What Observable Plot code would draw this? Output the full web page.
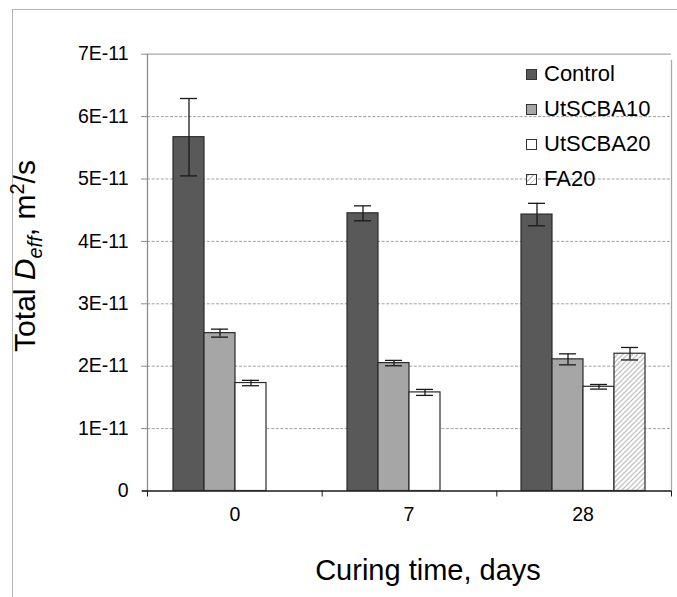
<!DOCTYPE html>
<html><head><meta charset="utf-8">
<script src="https://cdn.jsdelivr.net/npm/d3@7"></script>
<script src="https://cdn.jsdelivr.net/npm/@observablehq/plot@0.6"></script>
<style>
body{margin:0;background:#fff;font-family:"Liberation Sans",Arial,sans-serif;}
#wrap{position:relative;width:677px;height:597px;overflow:hidden;background:#fff;}
#wrap svg{position:absolute;left:0;top:0;}
#frame{position:absolute;left:12px;top:9px;width:700px;height:700px;border:1.5px solid #b4b4b4;box-sizing:border-box;}
.leg{position:absolute;left:526px;display:flex;align-items:center;font-size:22px;color:#000;height:24px;}
.leg .sw{width:11px;height:11px;border:1px solid #333;box-sizing:border-box;margin-right:7px;}
.ttl{position:absolute;color:#000;white-space:nowrap;}
</style></head><body><div id="wrap"><div id="frame"></div></div>
<script>
// values in units of 1E-11 m²/s
const categories = ["0", "7", "28"];
const series = ["Control", "UtSCBA10", "UtSCBA20", "FA20"];
const control     = [5.67, 4.45, 4.43];
const controlErr  = [0.62, 0.12, 0.18];
const utscba10    = [2.53, 2.05, 2.11];
const utscba10Err = [0.064, 0.043, 0.088];
const utscba20    = [1.73, 1.58, 1.67];
const utscba20Err = [0.043, 0.048, 0.037];
const fa20        = [null, null, 2.20];
const fa20Err     = [null, null, 0.10];
const yTicks = [0, 1, 2, 3, 4, 5, 6, 7];
const unit = 1e-11;
const fills = ["#595959", "#a6a6a6", "#ffffff", "url(#hatch)"];
const legendCss = ["#595959", "#a6a6a6", "#ffffff",
  "repeating-linear-gradient(-45deg,#c4c4c4 0 1.3px,#fff 1.3px 3.6px)"];

const vals = [control, utscba10, utscba20, fa20];
const errs = [controlErr, utscba10Err, utscba20Err, fa20Err];
const rows = [];
categories.forEach((c, i) => series.forEach((s, j) => {
  if (vals[j][i] != null) rows.push({cat: c, series: s, value: vals[j][i] * unit, err: errs[j][i] * unit});
}));

const W = 677, H = 597, mL = 147, mR = 6, mT = 53.7, mB = 106.5;
const font = '"Liberation Sans", Arial, sans-serif';
const wrap = document.getElementById("wrap");

const bg = Plot.plot({
  width: W, height: H, marginLeft: mL, marginRight: mR, marginTop: mT, marginBottom: mB,
  style: {background: "transparent", fontFamily: font, fontSize: "19.5px", color: "#000"},
  x: {type: "linear", domain: [0, categories.length], axis: null},
  y: {domain: [0, 7 * unit], axis: null},
  marks: [
    Plot.ruleY(yTicks.filter(t => t > 0 && t < 7).map(t => t * unit), {stroke: "#a0a0a0", strokeDasharray: "3,1.6", strokeWidth: 1}),
    Plot.ruleY([7 * unit], {stroke: "#a8a8a8", strokeWidth: 1.3}),
    Plot.ruleX([categories.length], {y1: 0, y2: 7 * unit, stroke: "#a8a8a8", strokeWidth: 1.3, insetBottom: -6}),
    Plot.ruleX([0], {y1: 0, y2: 7 * unit, stroke: "#8c8c8c", strokeWidth: 1.3}),
    Plot.axisY({ticks: yTicks.map(t => t * unit), tickFormat: v => Math.round(v / unit) === 0 ? "0" : Math.round(v / unit) + "E-11",
      tickSize: 6, tickPadding: 13, stroke: "#8c8c8c", fill: "#000", label: null}),
    Plot.axisX({ticks: d3.range(categories.length + 1), tickFormat: () => "", tickSize: 6, stroke: "#1a1a1a", label: null}),
    Plot.ruleY([0], {stroke: "#1a1a1a", strokeWidth: 1.3, insetLeft: -5})
  ]
});
wrap.appendChild(bg);

const fg = Plot.plot({
  width: W, height: H, marginLeft: mL, marginRight: mR, marginTop: mT, marginBottom: mB,
  style: {background: "transparent", fontFamily: font, fontSize: "19.5px", color: "#000"},
  fx: {domain: categories, paddingInner: 0.27, paddingOuter: 0.135, label: null, axis: "bottom", tickSize: 0, tickPadding: 16},
  x: {domain: series, padding: 0, axis: null},
  y: {domain: [0, 7 * unit], axis: null},
  color: {domain: series, range: fills},
  marks: [
    Plot.barY(rows, {fx: "cat", x: "series", y: "value", fill: "series", stroke: "#2a2a2a", strokeWidth: 1.2}),
    Plot.ruleX(rows, {fx: "cat", x: "series", y1: d => d.value - d.err, y2: d => d.value + d.err, stroke: "#1a1a1a", strokeWidth: 1.3}),
    Plot.tickY(rows, {fx: "cat", x: "series", y: d => d.value - d.err, insetLeft: 7, insetRight: 7, stroke: "#1a1a1a", strokeWidth: 1.3}),
    Plot.tickY(rows, {fx: "cat", x: "series", y: d => d.value + d.err, insetLeft: 7, insetRight: 7, stroke: "#1a1a1a", strokeWidth: 1.3})
  ]
});
d3.select(fg).insert("defs", ":first-child").html(
  '<pattern id="hatch" patternUnits="userSpaceOnUse" width="5" height="5">' +
  '<rect width="5" height="5" fill="#fff"/>' +
  '<path d="M-1,1 l2,-2 M0,5 l5,-5 M4,6 l2,-2" stroke="#c4c4c4" stroke-width="1.3"/></pattern>');
wrap.appendChild(fg);

// legend
series.forEach((s, i) => {
  const row = document.createElement("div");
  row.className = "leg";
  row.style.top = (74.3 + i * 35 - 12) + "px";
  row.innerHTML = `<span class="sw" style="background:${legendCss[i]}"></span><span>${s}</span>`;
  wrap.appendChild(row);
});

// axis titles
const yt = document.createElement("div");
yt.className = "ttl";
yt.style.cssText += "font-size:30px;left:47px;top:256px;transform:translate(-50%,-50%) rotate(-90deg) translate(0,-50%);transform-origin:center;";
yt.innerHTML = 'Total <i>D<sub style="font-size:20px">eff</sub></i>, m<sup style="font-size:20px">2</sup>/s';
wrap.appendChild(yt);

const xt = document.createElement("div");
xt.className = "ttl";
xt.style.cssText += "font-size:29px;left:428px;top:570px;transform:translate(-50%,-50%);";
xt.textContent = "Curing time, days";
wrap.appendChild(xt);
</script></body></html>
